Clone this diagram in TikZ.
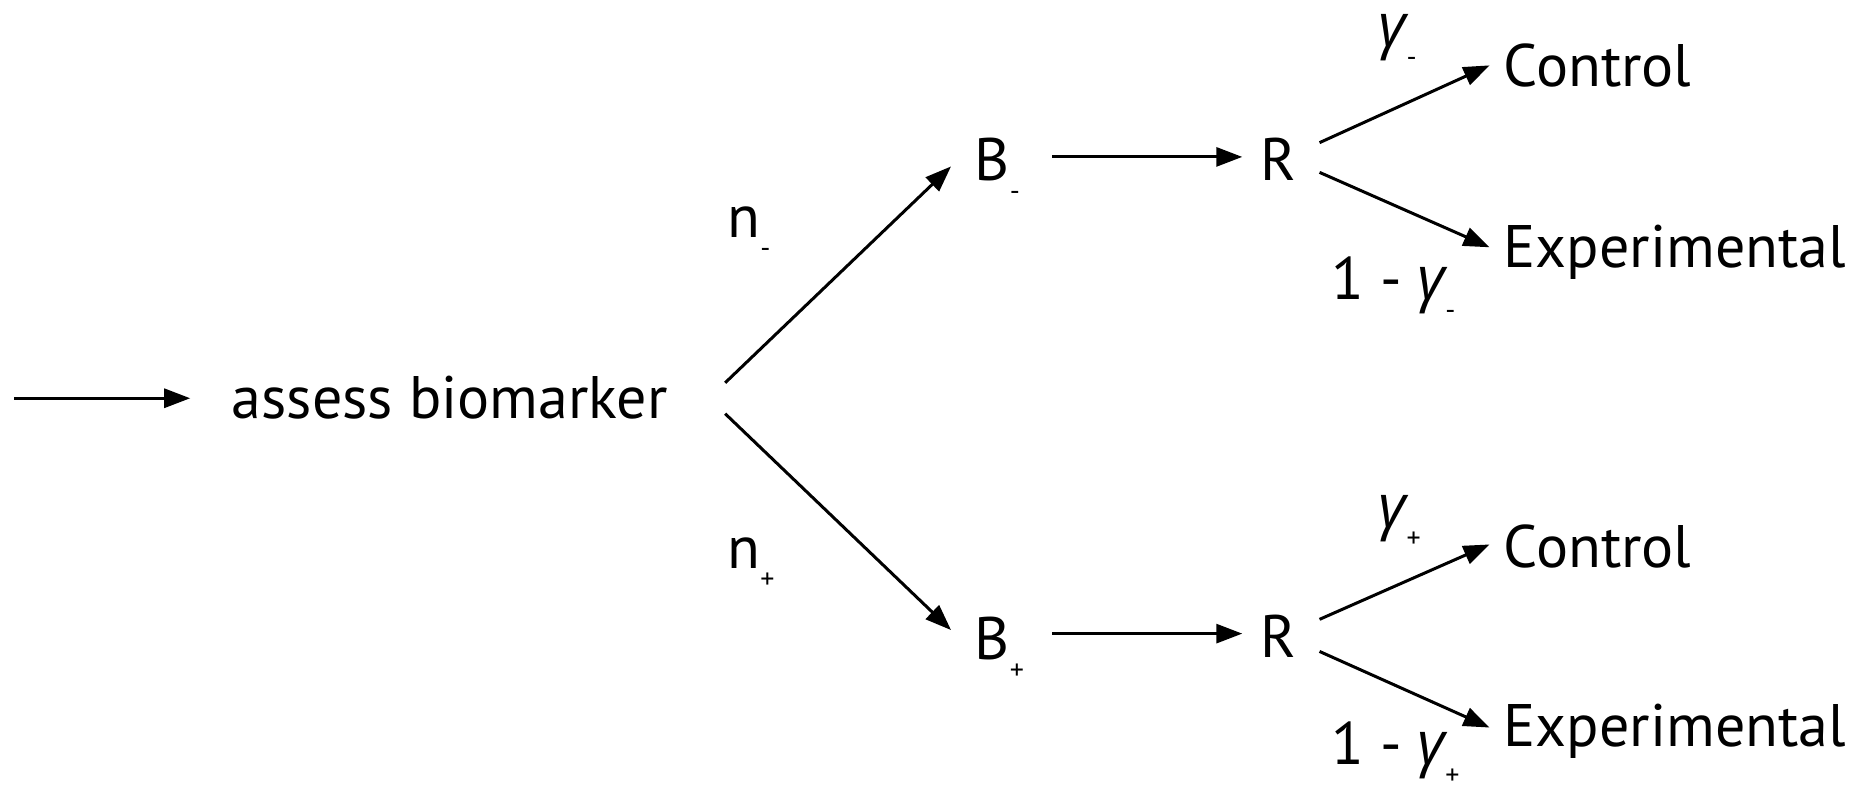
\documentclass[tikz,border=0pt]{standalone}
\usepackage{fontspec}
\setmainfont{PT Sans}
\newfontfamily\gfont{Open Sans}
\usetikzlibrary{arrows.meta,calc}
\newcommand\subm[1]{\raisebox{-20pt}{\fontsize{28}{28}\selectfont #1}}
\newcommand\gam{{\gfont\itshape γ}}
\begin{document}
\begin{tikzpicture}[x=1.1888pt,y=-1.1888pt,
  txt/.style={anchor=base west,inner sep=0pt,outer sep=0pt,font=\fontsize{60}{62}\selectfont},
  arr/.style={line width=3pt,-{Triangle[length=26pt,width=19pt]}}]
\useasboundingbox (0,0) rectangle (1568,668);
\coordinate (in0) at (12,335);
\node[txt] (bm) at (195,352) {assess biomarker};
\node[txt] (Bm) at (820,152) {B\subm{-}};
\node[txt] (Rm) at (1060,152) {R};
\node[txt] (Cm) at (1265,73) {Control};
\node[txt] (Em) at (1265,225) {Experimental};
\node[txt] (Bp) at (820,555) {B\subm{+}};
\node[txt] (Rp) at (1060,553) {R};
\node[txt] (Cp) at (1265,477) {Control};
\node[txt] (Ep) at (1265,628) {Experimental};
\node[txt] (nm) at (612,200) {n\subm{-}};
\node[txt] (np) at (612,478) {n\subm{+}};
\node[txt] (gm) at (1160,39) {\gam\subm{-}};
\node[txt] (g1m) at (1120,252) {1 - \gam\subm{-}};
\node[txt] (gp) at (1160,444) {\gam\subm{+}};
\node[txt] (g1p) at (1120,643) {1 - \gam\subm{+}};
\draw[arr] (in0) -- ($(bm.base west)+(-35,-17)$);
\draw[arr] ($(bm.base west)+(415,-30)$) -- ($(Bm.base west)+(-20,-12)$);
\draw[arr] ($(bm.base west)+(415,-4)$) -- ($(Bp.base west)+(-20,-25)$);
\draw[arr] ($(Bm.base west)+(65,-20)$) -- ($(Rm.base west)+(-15,-20)$);
\draw[arr] ($(Bp.base west)+(65,-22)$) -- ($(Rp.base west)+(-15,-20)$);
\draw[arr] ($(Rm.base west)+(50,-32)$) -- ($(Cm.base west)+(-12,-18)$);
\draw[arr] ($(Rm.base west)+(50,-7)$) -- ($(Em.base west)+(-12,-17)$);
\draw[arr] ($(Rp.base west)+(50,-32)$) -- ($(Cp.base west)+(-12,-19)$);
\draw[arr] ($(Rp.base west)+(50,-5)$) -- ($(Ep.base west)+(-12,-16)$);
\end{tikzpicture}
\end{document}
